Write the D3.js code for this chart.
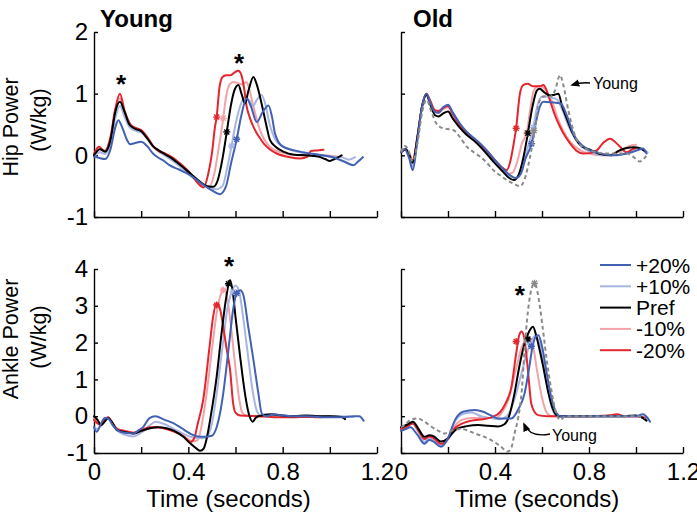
<!DOCTYPE html>
<html>
<head>
<meta charset="utf-8">
<script src="https://cdn.jsdelivr.net/npm/d3@7"></script>
<style>
  body { margin: 0; background: #fff; }
  svg { display: block; font-family: "Liberation Sans", Arial, sans-serif; }
</style>
</head>
<body>
<svg id="chart" width="697" height="516"></svg>
<script>
// ---------------- DATA ----------------
const timeTicks = [0, 0.2, 0.4, 0.6, 0.8, 1.0, 1.2];
const timeTickLabels = ["0", "", "0.4", "", "0.8", "", "1.2"];
const hipTicks = [-1, 0, 1, 2];
const ankleTicks = [-1, 0, 1, 2, 3, 4];
const seriesNames = ["+20%", "+10%", "Pref", "-10%", "-20%"];
const panelTitles = ["Young", "Old"];

// Young – hip power (W/kg) : [time s, value]
const youngHipP20 = [[0,-0.02],[0.02,-0.04],[0.047,-0.06],[0.07,0.1],[0.09,0.45],[0.103,0.57],[0.12,0.45],[0.14,0.25],[0.153,0.18],[0.175,0.2],[0.2,0.22],[0.225,0.15],[0.25,0.03],[0.266,-0.02],[0.3,-0.1],[0.32,-0.16],[0.36,-0.23],[0.407,-0.32],[0.45,-0.44],[0.5,-0.57],[0.534,-0.63],[0.56,-0.5],[0.58,-0.15],[0.605,0.26],[0.625,0.65],[0.647,0.92],[0.665,0.8],[0.69,0.54],[0.715,0.7],[0.74,0.81],[0.755,0.62],[0.767,0.36],[0.8,0.14],[0.85,0.08],[0.9,0.04],[0.97,0.0],[1.02,-0.04],[1.06,-0.1],[1.1,-0.16],[1.12,-0.1],[1.14,-0.03]];
const youngHipP10 = [[0,-0.02],[0.025,0.05],[0.047,0.02],[0.07,0.2],[0.09,0.6],[0.11,0.8],[0.13,0.62],[0.15,0.46],[0.175,0.4],[0.2,0.37],[0.225,0.27],[0.25,0.14],[0.275,0.06],[0.3,0.0],[0.33,-0.08],[0.37,-0.2],[0.41,-0.33],[0.45,-0.46],[0.49,-0.53],[0.52,-0.55],[0.545,-0.5],[0.565,-0.2],[0.583,0.15],[0.6,0.5],[0.62,0.8],[0.64,0.95],[0.66,0.88],[0.675,0.8],[0.69,0.9],[0.71,0.98],[0.725,0.85],[0.745,0.5],[0.77,0.25],[0.8,0.15],[0.85,0.07],[0.9,0.03],[0.95,0.0],[1.0,-0.02],[1.05,-0.03],[1.08,-0.07],[1.107,-0.03]];
const youngHipPref = [[0,0.0],[0.025,0.1],[0.047,0.06],[0.07,0.25],[0.09,0.7],[0.11,0.87],[0.13,0.7],[0.15,0.5],[0.175,0.43],[0.2,0.39],[0.225,0.28],[0.25,0.15],[0.275,0.08],[0.3,0.02],[0.33,-0.05],[0.37,-0.17],[0.41,-0.3],[0.45,-0.43],[0.48,-0.5],[0.506,-0.51],[0.525,-0.4],[0.545,-0.05],[0.563,0.38],[0.58,0.8],[0.595,1.05],[0.612,1.14],[0.627,0.98],[0.64,0.84],[0.655,1.05],[0.676,1.27],[0.69,1.15],[0.71,0.85],[0.73,0.5],[0.746,0.25],[0.77,0.14],[0.803,0.06],[0.85,0.01],[0.9,0.0],[0.95,-0.02],[0.98,-0.06],[1.0,-0.09],[1.02,-0.06],[1.05,0.0]];
const youngHipM10 = [[0,0.0],[0.02,0.12],[0.045,0.06],[0.07,0.25],[0.09,0.72],[0.11,0.92],[0.13,0.68],[0.155,0.48],[0.18,0.43],[0.2,0.4],[0.225,0.3],[0.25,0.16],[0.27,0.09],[0.3,0.03],[0.33,-0.04],[0.37,-0.15],[0.41,-0.3],[0.44,-0.43],[0.47,-0.5],[0.49,-0.5],[0.51,-0.3],[0.53,0.15],[0.548,0.6],[0.56,0.95],[0.575,1.15],[0.59,1.19],[0.61,1.17],[0.63,1.15],[0.647,1.19],[0.66,1.05],[0.676,0.79],[0.704,0.41],[0.746,0.14],[0.8,0.04],[0.86,0.0],[0.92,-0.01],[0.97,0.0],[1.03,-0.02]];
const youngHipM20 = [[0,0.02],[0.02,0.14],[0.045,0.07],[0.07,0.3],[0.09,0.75],[0.11,1.0],[0.13,0.72],[0.155,0.5],[0.18,0.44],[0.2,0.41],[0.225,0.3],[0.25,0.15],[0.27,0.08],[0.3,0.03],[0.33,-0.03],[0.37,-0.15],[0.41,-0.3],[0.44,-0.45],[0.465,-0.52],[0.485,-0.29],[0.5,0.03],[0.513,0.46],[0.52,0.62],[0.532,1.1],[0.545,1.27],[0.56,1.3],[0.58,1.3],[0.595,1.34],[0.612,1.37],[0.625,1.3],[0.638,1.05],[0.647,0.8],[0.66,0.62],[0.676,0.46],[0.7,0.3],[0.72,0.19],[0.745,0.1],[0.775,0.03],[0.83,-0.03],[0.875,-0.05],[0.905,-0.02],[0.92,0.07],[0.945,0.08],[0.973,0.09]];

// Old – hip power
const oldHipP20 = [[0,0.05],[0.015,0.1],[0.035,-0.05],[0.05,-0.24],[0.07,0.25],[0.09,0.8],[0.108,1.0],[0.125,0.85],[0.145,0.7],[0.16,0.69],[0.18,0.78],[0.2,0.82],[0.22,0.7],[0.25,0.52],[0.28,0.38],[0.31,0.28],[0.34,0.18],[0.37,0.06],[0.4,-0.08],[0.43,-0.2],[0.46,-0.31],[0.49,-0.37],[0.51,-0.3],[0.53,-0.05],[0.556,0.19],[0.575,0.55],[0.59,0.78],[0.606,0.87],[0.64,0.86],[0.68,0.84],[0.7,0.7],[0.715,0.55],[0.733,0.35],[0.76,0.2],[0.79,0.11],[0.84,0.04],[0.9,0.0],[0.95,0.02],[0.99,0.06],[1.03,0.11],[1.045,0.03]];
const oldHipP10 = [[0,0.05],[0.02,0.1],[0.035,0.0],[0.05,-0.18],[0.07,0.3],[0.09,0.8],[0.108,1.0],[0.125,0.85],[0.145,0.7],[0.16,0.7],[0.18,0.78],[0.2,0.8],[0.22,0.68],[0.25,0.5],[0.28,0.37],[0.31,0.27],[0.34,0.17],[0.37,0.04],[0.4,-0.1],[0.43,-0.22],[0.46,-0.32],[0.485,-0.37],[0.505,-0.3],[0.525,-0.05],[0.545,0.2],[0.563,0.45],[0.58,0.8],[0.6,0.95],[0.62,0.95],[0.645,0.93],[0.665,0.9],[0.685,0.75],[0.71,0.5],[0.74,0.28],[0.77,0.14],[0.81,0.05],[0.86,0.0],[0.92,0.0],[0.97,0.05],[1.02,0.1],[1.05,0.05]];
const oldHipPref = [[0,0.05],[0.02,0.1],[0.035,0.0],[0.05,-0.12],[0.07,0.3],[0.09,0.8],[0.108,0.98],[0.125,0.82],[0.145,0.65],[0.16,0.63],[0.18,0.68],[0.2,0.71],[0.22,0.6],[0.25,0.45],[0.28,0.33],[0.31,0.24],[0.34,0.13],[0.37,0.0],[0.4,-0.13],[0.43,-0.25],[0.455,-0.35],[0.48,-0.4],[0.5,-0.32],[0.52,-0.05],[0.54,0.36],[0.56,0.8],[0.578,1.05],[0.59,1.08],[0.61,1.02],[0.634,0.97],[0.65,0.98],[0.67,1.0],[0.685,0.8],[0.705,0.6],[0.73,0.36],[0.762,0.17],[0.804,0.09],[0.85,0.02],[0.89,0.0],[0.93,0.08],[0.96,0.12],[0.99,0.13],[1.02,0.11],[1.04,0.06]];
const oldHipM10 = [[0,0.06],[0.02,0.1],[0.035,0.02],[0.05,-0.1],[0.07,0.3],[0.09,0.8],[0.108,1.0],[0.125,0.86],[0.145,0.7],[0.16,0.69],[0.18,0.75],[0.2,0.78],[0.22,0.66],[0.25,0.49],[0.28,0.35],[0.31,0.25],[0.34,0.15],[0.37,0.03],[0.4,-0.1],[0.43,-0.22],[0.455,-0.3],[0.475,-0.28],[0.495,-0.1],[0.515,0.2],[0.535,0.36],[0.55,0.75],[0.565,1.05],[0.585,1.12],[0.605,1.1],[0.625,1.0],[0.645,0.85],[0.665,0.62],[0.69,0.4],[0.72,0.22],[0.76,0.09],[0.8,0.03],[0.86,0.0],[0.9,0.02],[0.94,0.08],[0.97,0.15],[1.0,0.17]];
const oldHipM20 = [[0,0.06],[0.02,0.1],[0.035,0.02],[0.05,-0.08],[0.07,0.3],[0.09,0.8],[0.108,1.0],[0.125,0.88],[0.145,0.73],[0.16,0.72],[0.18,0.77],[0.2,0.8],[0.22,0.68],[0.25,0.5],[0.28,0.36],[0.31,0.26],[0.34,0.16],[0.37,0.05],[0.4,-0.08],[0.425,-0.18],[0.45,-0.24],[0.465,-0.1],[0.48,0.2],[0.49,0.44],[0.506,1.0],[0.52,1.14],[0.54,1.16],[0.56,1.12],[0.59,1.12],[0.606,1.14],[0.62,1.05],[0.634,0.89],[0.655,0.65],[0.677,0.46],[0.7,0.3],[0.72,0.19],[0.745,0.08],[0.776,0.03],[0.81,0.04],[0.833,0.08],[0.86,0.2],[0.89,0.27],[0.91,0.22],[0.932,0.14],[0.96,0.05],[0.985,0.1],[1.0,0.12]];
const oldHipYoungRef = [[0,0.05],[0.015,0.15],[0.03,0.1],[0.05,-0.1],[0.07,0.2],[0.09,0.7],[0.109,0.9],[0.13,0.7],[0.15,0.52],[0.166,0.46],[0.19,0.43],[0.222,0.41],[0.25,0.3],[0.28,0.14],[0.31,0.05],[0.336,-0.02],[0.365,-0.12],[0.393,-0.24],[0.42,-0.32],[0.45,-0.4],[0.48,-0.46],[0.506,-0.5],[0.525,-0.4],[0.54,-0.19],[0.567,0.35],[0.59,0.89],[0.61,0.96],[0.635,0.95],[0.655,1.05],[0.677,1.3],[0.69,1.15],[0.712,0.73],[0.73,0.45],[0.748,0.25],[0.78,0.12],[0.82,0.06],[0.88,0.03],[0.96,0.03],[0.99,-0.03],[1.017,-0.1],[1.035,-0.05],[1.05,0.03]];

// Young – ankle power
const youngAnkleP20 = [[0,-0.3],[0.011,-0.42],[0.03,-0.2],[0.045,-0.05],[0.06,-0.06],[0.08,-0.25],[0.1,-0.38],[0.13,-0.45],[0.167,-0.47],[0.19,-0.38],[0.209,-0.29],[0.235,-0.05],[0.26,0.0],[0.3,-0.1],[0.336,-0.19],[0.37,-0.32],[0.407,-0.47],[0.44,-0.55],[0.47,-0.56],[0.5,-0.53],[0.52,-0.3],[0.535,0.1],[0.548,0.62],[0.57,1.8],[0.59,2.9],[0.605,3.35],[0.62,3.42],[0.633,3.3],[0.654,2.43],[0.676,1.53],[0.697,0.62],[0.711,0.08],[0.73,0.0],[0.76,0.05],[0.8,0.02],[0.85,0.0],[0.9,0.0],[0.95,-0.02],[1.0,-0.03],[1.05,-0.03],[1.1,0.0],[1.125,0.0],[1.143,-0.12]];
const youngAnkleP10 = [[0,-0.3],[0.015,-0.35],[0.03,-0.25],[0.045,-0.1],[0.06,-0.05],[0.075,-0.2],[0.1,-0.4],[0.13,-0.5],[0.167,-0.55],[0.2,-0.45],[0.237,-0.25],[0.26,-0.15],[0.3,-0.22],[0.34,-0.35],[0.38,-0.48],[0.42,-0.58],[0.46,-0.6],[0.48,-0.55],[0.5,-0.2],[0.52,0.6],[0.545,1.9],[0.565,2.9],[0.585,3.4],[0.6,3.55],[0.615,3.4],[0.63,2.8],[0.65,1.8],[0.67,0.8],[0.69,0.15],[0.705,0.02],[0.75,0.02],[0.8,0.0],[0.9,0.0],[1.0,0.0],[1.05,0.0],[1.1,-0.02]];
const youngAnklePref = [[0,0.0],[0.015,-0.1],[0.03,-0.24],[0.045,-0.15],[0.06,-0.05],[0.075,-0.15],[0.096,-0.37],[0.13,-0.43],[0.167,-0.47],[0.2,-0.4],[0.237,-0.33],[0.27,-0.3],[0.308,-0.33],[0.34,-0.4],[0.379,-0.56],[0.41,-0.75],[0.435,-0.88],[0.45,-0.94],[0.465,-0.88],[0.478,-0.6],[0.495,0.0],[0.52,1.07],[0.54,2.2],[0.56,3.2],[0.577,3.7],[0.59,3.3],[0.6,2.7],[0.62,1.6],[0.64,0.62],[0.655,0.1],[0.673,-0.15],[0.685,-0.05],[0.697,0.0],[0.75,0.05],[0.8,0.02],[0.85,0.0],[0.9,0.02],[0.95,0.0],[1.0,0.0],[1.05,-0.02],[1.065,-0.08]];
const youngAnkleM10 = [[0,-0.05],[0.015,-0.15],[0.03,-0.22],[0.045,-0.1],[0.06,-0.03],[0.075,-0.15],[0.1,-0.35],[0.13,-0.4],[0.167,-0.47],[0.2,-0.42],[0.237,-0.33],[0.27,-0.3],[0.308,-0.35],[0.34,-0.42],[0.38,-0.55],[0.42,-0.68],[0.44,-0.65],[0.455,-0.3],[0.475,0.5],[0.5,1.8],[0.52,2.8],[0.537,3.3],[0.553,3.45],[0.57,3.0],[0.585,2.2],[0.6,1.3],[0.615,0.5],[0.628,0.1],[0.645,0.02],[0.7,0.0],[0.8,0.0],[0.9,-0.02],[0.95,0.0],[1.0,-0.02],[1.03,0.0]];
const youngAnkleM20 = [[0,-0.1],[0.015,-0.2],[0.03,-0.25],[0.045,-0.1],[0.06,-0.03],[0.075,-0.15],[0.1,-0.35],[0.13,-0.4],[0.167,-0.45],[0.2,-0.38],[0.237,-0.3],[0.27,-0.3],[0.308,-0.35],[0.34,-0.42],[0.38,-0.55],[0.41,-0.7],[0.425,-0.6],[0.44,-0.2],[0.463,0.44],[0.49,1.89],[0.505,2.7],[0.52,3.07],[0.535,2.9],[0.548,2.43],[0.563,1.8],[0.577,1.26],[0.59,0.35],[0.6,0.1],[0.62,0.02],[0.7,0.0],[0.75,-0.02],[0.8,-0.03],[0.85,-0.03],[0.9,-0.02],[0.95,-0.03],[1.0,-0.01]];

// Old – ankle power
const oldAnkleP20 = [[0,-0.4],[0.02,-0.35],[0.04,-0.3],[0.07,-0.51],[0.1,-0.75],[0.12,-0.65],[0.14,-0.7],[0.17,-0.83],[0.2,-0.6],[0.23,-0.1],[0.264,0.12],[0.314,0.17],[0.35,0.12],[0.38,0.03],[0.413,-0.06],[0.47,-0.06],[0.5,0.2],[0.526,0.62],[0.545,1.3],[0.56,1.9],[0.572,2.15],[0.585,2.2],[0.6,1.9],[0.62,1.17],[0.64,0.5],[0.662,0.08],[0.68,0.0],[0.8,0.0],[0.9,0.0],[1.0,0.0],[1.03,0.05],[1.06,-0.15]];
const oldAnkleP10 = [[0,-0.35],[0.02,-0.3],[0.05,-0.2],[0.075,-0.45],[0.1,-0.7],[0.12,-0.6],[0.14,-0.65],[0.17,-0.8],[0.2,-0.6],[0.225,-0.2],[0.26,0.05],[0.3,0.1],[0.34,0.0],[0.38,-0.05],[0.42,-0.08],[0.45,0.0],[0.48,0.4],[0.51,1.1],[0.535,1.7],[0.555,2.05],[0.575,2.2],[0.595,1.8],[0.615,1.1],[0.635,0.4],[0.655,0.05],[0.68,0.0],[0.8,0.0],[0.9,0.0],[1.0,0.0],[1.05,-0.05]];
const oldAnklePref = [[0,-0.3],[0.023,-0.24],[0.051,-0.15],[0.075,-0.35],[0.1,-0.56],[0.12,-0.52],[0.14,-0.55],[0.17,-0.69],[0.2,-0.6],[0.22,-0.45],[0.242,-0.33],[0.28,-0.27],[0.328,-0.24],[0.37,-0.26],[0.413,-0.28],[0.44,-0.22],[0.46,0.0],[0.483,0.62],[0.505,1.4],[0.526,1.98],[0.545,2.3],[0.562,2.43],[0.575,2.2],[0.59,1.8],[0.605,1.35],[0.625,0.7],[0.648,0.17],[0.67,0.0],[0.7,0.0],[0.8,0.0],[0.9,0.0],[0.95,0.0],[1.0,0.02],[1.03,-0.05],[1.045,-0.12]];
const oldAnkleM10 = [[0,-0.3],[0.02,-0.28],[0.05,-0.18],[0.075,-0.4],[0.1,-0.6],[0.12,-0.55],[0.14,-0.6],[0.17,-0.75],[0.2,-0.62],[0.225,-0.3],[0.26,-0.1],[0.3,-0.05],[0.35,-0.05],[0.4,-0.05],[0.43,0.1],[0.46,0.5],[0.49,1.3],[0.515,1.9],[0.533,2.07],[0.55,2.1],[0.565,1.8],[0.58,1.2],[0.6,0.5],[0.62,0.1],[0.64,0.0],[0.7,0.0],[0.8,0.0],[0.9,0.0],[1.0,0.0],[1.04,-0.03]];
const oldAnkleM20 = [[0,-0.35],[0.02,-0.3],[0.05,-0.2],[0.075,-0.4],[0.1,-0.62],[0.12,-0.55],[0.14,-0.6],[0.17,-0.75],[0.2,-0.62],[0.225,-0.35],[0.26,-0.2],[0.3,-0.12],[0.35,-0.08],[0.39,-0.02],[0.42,0.1],[0.445,0.35],[0.47,0.8],[0.49,1.7],[0.503,2.2],[0.513,2.3],[0.525,2.1],[0.54,1.26],[0.554,0.35],[0.57,0.1],[0.583,0.03],[0.62,0.0],[0.7,0.0],[0.8,0.0],[0.88,0.02],[0.92,0.05],[0.95,0.0],[1.0,0.0],[1.04,-0.05]];
const oldAnkleYoungRef = [[0,-0.3],[0.016,-0.24],[0.04,-0.1],[0.072,-0.06],[0.1,-0.15],[0.128,-0.28],[0.16,-0.4],[0.185,-0.47],[0.22,-0.38],[0.26,-0.35],[0.314,-0.47],[0.35,-0.55],[0.384,-0.65],[0.42,-0.8],[0.455,-0.96],[0.47,-0.85],[0.483,-0.47],[0.5,0.0],[0.513,0.62],[0.528,2.0],[0.545,3.1],[0.56,3.55],[0.568,3.61],[0.58,3.4],[0.591,2.98],[0.605,2.3],[0.62,1.53],[0.635,0.9],[0.65,0.35],[0.665,0.0],[0.677,-0.1],[0.7,0.0],[0.8,0.0],[0.9,0.0],[1.0,0.0],[1.04,-0.05]];

// Event markers (small stars on the curves): [time, value] in order +20,+10,Pref,-10,-20
const youngHipMarks = [[0.605,0.26],[0.583,0.15],[0.563,0.38],[0.548,0.6],[0.52,0.62]];
const oldHipMarks = [[0.556,0.19],[0.563,0.45],[0.54,0.36],[0.535,0.36],[0.49,0.44]];
const oldHipYoungMark = [0.566,0.4];
const youngAnkleMarks = [[0.605,3.34],[0.59,3.38],[0.57,3.6],[0.548,3.43],[0.52,3.02]];
const oldAnkleMarks = [[0.555,1.9],[0.545,2.0],[0.54,2.1],[0.533,2.07],[0.49,2.03]];
const oldAnkleYoungMark = [0.568,3.61];

// Significance asterisks: [time, value]
const youngHipStars = [[0.1145,1.22],[0.615,1.56]];
const youngAnkleStars = [[0.5725,4.19]];
const oldAnkleStars = [[0.506,3.4]];

// ---------------- DRAWING ----------------
const colors = ["#4361b3", "#a9b5e2", "#000000", "#f3a3a8", "#e3262e"];
const drawOrder = [3, 1, 4, 2, 0];
const svg = d3.select("#chart");
const FONT = "'Liberation Sans', Arial, sans-serif";

svg.append("defs").append("marker")
  .attr("id", "arrowhead").attr("viewBox", "0 0 10 10")
  .attr("refX", 8).attr("refY", 5).attr("markerWidth", 7).attr("markerHeight", 7)
  .attr("orient", "auto")
  .append("path").attr("d", "M0,1 L10,5 L0,9 Z").attr("fill", "#000");

const panels = [
  { key: "yh", x0: 94, x1: 377, yTop: 32, yBot: 217, yDomain: [-1, 2], yTicks: hipTicks, yLabels: true, xLabels: false,
    series: [youngHipP20, youngHipP10, youngHipPref, youngHipM10, youngHipM20], marks: youngHipMarks, stars: youngHipStars,
    title: panelTitles[0], titleX: 100 },
  { key: "oh", x0: 401, x1: 683, yTop: 32, yBot: 217, yDomain: [-1, 2], yTicks: hipTicks, yLabels: false, xLabels: false,
    series: [oldHipP20, oldHipP10, oldHipPref, oldHipM10, oldHipM20], marks: oldHipMarks, stars: [],
    title: panelTitles[1], titleX: 413, ref: oldHipYoungRef, refMark: oldHipYoungMark },
  { key: "ya", x0: 94, x1: 377, yTop: 269, yBot: 453, yDomain: [-1, 4], yTicks: ankleTicks, yLabels: true, xLabels: true,
    series: [youngAnkleP20, youngAnkleP10, youngAnklePref, youngAnkleM10, youngAnkleM20], marks: youngAnkleMarks, stars: youngAnkleStars },
  { key: "oa", x0: 401, x1: 683, yTop: 269, yBot: 453, yDomain: [-1, 4], yTicks: ankleTicks, yLabels: false, xLabels: true,
    series: [oldAnkleP20, oldAnkleP10, oldAnklePref, oldAnkleM10, oldAnkleM20], marks: oldAnkleMarks, stars: oldAnkleStars,
    ref: oldAnkleYoungRef, refMark: oldAnkleYoungMark }
];

function starMarker(g, cx, cy, color, r) {
  const d = r * 0.72;
  g.append("path")
    .attr("d", `M${cx - r},${cy}L${cx + r},${cy}M${cx},${cy - r}L${cx},${cy + r}M${cx - d},${cy - d}L${cx + d},${cy + d}M${cx - d},${cy + d}L${cx + d},${cy - d}`)
    .attr("stroke", color).attr("stroke-width", 1.4).attr("fill", "none");
}

panels.forEach(p => {
  const x = d3.scaleLinear().domain([0, 1.2]).range([p.x0, p.x1]);
  const y = d3.scaleLinear().domain(p.yDomain).range([p.yBot, p.yTop]);
  const g = svg.append("g");

  const xAxis = d3.axisBottom(x).tickValues(timeTicks).tickSize(-6).tickSizeOuter(0).tickPadding(10)
    .tickFormat((d, i) => p.xLabels ? timeTickLabels[i] : "");
  const gx = g.append("g").attr("transform", `translate(0,${p.yBot})`).call(xAxis);
  const yAxis = d3.axisLeft(y).tickValues(p.yTicks).tickSize(-4).tickSizeOuter(0).tickPadding(6)
    .tickFormat(d => p.yLabels ? String(d) : "");
  const gy = g.append("g").attr("transform", `translate(${p.x0},0)`).call(yAxis);
  [gx, gy].forEach(a => {
    a.selectAll("path.domain").attr("stroke", "#000").attr("stroke-width", 1.4);
    a.selectAll(".tick line").attr("stroke", "#000").attr("stroke-width", 1.4);
    a.selectAll("text").attr("font-family", FONT).attr("font-size", 24).attr("fill", "#000");
  });

  const line = d3.line().x(d => x(d[0])).y(d => y(d[1])).curve(d3.curveMonotoneX);

  drawOrder.forEach(i => {
    g.append("path").datum(p.series[i]).attr("d", line)
      .attr("fill", "none").attr("stroke", colors[i]).attr("stroke-width", 2)
      .attr("stroke-linejoin", "round").attr("stroke-linecap", "round");
  });
  drawOrder.forEach(i => {
    const m = p.marks[i];
    starMarker(g, x(m[0]), y(m[1]), colors[i], 3.5);
  });
  if (p.ref) {
    g.append("path").datum(p.ref).attr("d", line)
      .attr("fill", "none").attr("stroke", "#8a8a8a").attr("stroke-width", 2)
      .attr("stroke-dasharray", "4,3");
    starMarker(g, x(p.refMark[0]), y(p.refMark[1]), "#8a8a8a", 3.5);
  }
  p.stars.forEach(s => {
    g.append("text").attr("x", x(s[0])).attr("y", y(s[1]) + 13)
      .attr("text-anchor", "middle").attr("font-family", FONT).attr("font-size", 26).attr("font-weight", "bold")
      .text("*");
  });
  if (p.title) {
    g.append("text").attr("x", p.titleX).attr("y", 27).attr("font-family", FONT)
      .attr("font-size", 24).attr("font-weight", "bold").text(p.title);
  }
});

// y-axis titles
function yTitle(text, bx, cy) {
  svg.append("text").attr("transform", `translate(${bx},${cy}) rotate(-90)`)
    .attr("text-anchor", "middle").attr("font-family", FONT).attr("font-size", 21.5).text(text);
}
yTitle("Hip Power", 18, 127);
yTitle("(W/kg)", 46, 120);
yTitle("Ankle Power", 18, 339);
yTitle("(W/kg)", 46, 337);

// x-axis titles
[["ya", -7], ["oa", -5]].forEach(([k, off]) => {
  const p = panels.find(q => q.key === k);
  svg.append("text").attr("x", (p.x0 + p.x1) / 2 + off).attr("y", 507).attr("text-anchor", "middle")
    .attr("font-family", FONT).attr("font-size", 24).text("Time (seconds)");
});

// "Young" reference annotations
svg.append("path").attr("d", "M590,83 Q582,82 572,85").attr("fill", "none").attr("stroke", "#000")
  .attr("stroke-width", 1.3).attr("marker-end", "url(#arrowhead)");
svg.append("text").attr("x", 593).attr("y", 89).attr("font-family", FONT).attr("font-size", 16).text("Young");
svg.append("path").attr("d", "M550,434 Q530,438 524,424").attr("fill", "none").attr("stroke", "#000")
  .attr("stroke-width", 1.3).attr("marker-end", "url(#arrowhead)");
svg.append("text").attr("x", 552).attr("y", 441).attr("font-family", FONT).attr("font-size", 16).text("Young");

// legend
const legend = svg.append("g");
seriesNames.forEach((name, i) => {
  const ly = 265 + i * 21.3;
  legend.append("line").attr("x1", 600).attr("x2", 631).attr("y1", ly).attr("y2", ly)
    .attr("stroke", colors[i]).attr("stroke-width", 2);
  legend.append("text").attr("x", 636).attr("y", ly + 7.5).attr("font-family", FONT)
    .attr("font-size", 21).text(name);
});
</script>
</body>
</html>
